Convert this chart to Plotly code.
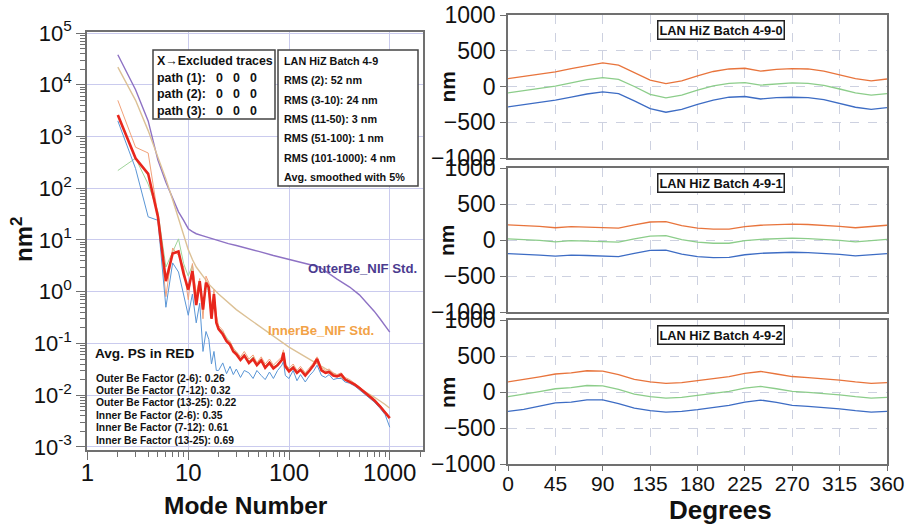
import plotly.graph_objects as go

# ---------------- power spectra (left panel) ----------------
MODES = [2, 3, 4, 5, 6, 7, 8, 9, 10, 11, 12, 13, 14, 15, 16, 17, 18, 19, 20,
         22, 24, 26, 28, 30, 33, 36, 40, 44, 48, 53, 58, 64, 70, 77, 85, 88, 92,
         100, 110, 120, 130, 145, 160, 175, 190, 210, 230, 250, 275, 300, 330,
         360, 400, 450, 500, 560, 630, 700, 800, 900, 1000]

PS_AVG = [2600, 380, 190, 28, 1.6, 5.5, 6.0, 2.2, 1.1, 2.5, 0.55, 1.6, 0.45, 1.5,
          1.2, 0.3, 0.9, 0.25, 0.19, 0.15, 0.11, 0.095, 0.07, 0.062, 0.048, 0.058,
          0.042, 0.05, 0.038, 0.047, 0.034, 0.042, 0.033, 0.038, 0.048, 0.066,
          0.036, 0.029, 0.034, 0.027, 0.031, 0.024, 0.03, 0.038, 0.05, 0.03, 0.027,
          0.028, 0.024, 0.023, 0.025, 0.02, 0.018, 0.016, 0.0138, 0.0115, 0.0096,
          0.008, 0.0061, 0.0046, 0.0036]

PS_PATH1 = [2000, 240, 28, 24, 0.5, 3.6, 2.4, 0.9, 0.35, 0.9, 0.25, 0.6, 0.07,
            0.17, 0.12, 0.04, 0.07, 0.03, 0.03, 0.042, 0.026, 0.036, 0.025, 0.032,
            0.022, 0.03, 0.027, 0.021, 0.03, 0.024, 0.02, 0.028, 0.021, 0.03,
            0.038, 0.045, 0.024, 0.021, 0.03, 0.019, 0.025, 0.018, 0.024, 0.029,
            0.038, 0.024, 0.022, 0.025, 0.02, 0.021, 0.021, 0.018, 0.017, 0.015,
            0.0128, 0.0108, 0.009, 0.0074, 0.0056, 0.0042, 0.0024]

PS_PATH2 = [5000, 620, 480, 30, 0.8, 7, 5, 3.0, 0.7, 3.5, 0.9, 1.8, 0.3, 2.0, 1.5,
            0.5, 1.1, 0.35, 0.22, 0.18, 0.12, 0.11, 0.08, 0.07, 0.055, 0.07, 0.05,
            0.06, 0.042, 0.055, 0.04, 0.05, 0.038, 0.045, 0.055, 0.075, 0.04,
            0.033, 0.04, 0.03, 0.036, 0.027, 0.034, 0.042, 0.055, 0.034, 0.03,
            0.032, 0.027, 0.025, 0.027, 0.022, 0.02, 0.017, 0.0145, 0.012, 0.01,
            0.0085, 0.0064, 0.0048, 0.0038]

PS_PATH3 = [220, 380, 120, 35, 3, 6, 10.5, 3.5, 2.0, 3.3, 0.7, 1.5, 0.5, 1.3, 1.0,
            0.3, 0.8, 0.28, 0.2, 0.17, 0.13, 0.1, 0.08, 0.065, 0.05, 0.062, 0.045,
            0.055, 0.04, 0.05, 0.036, 0.045, 0.035, 0.04, 0.05, 0.068, 0.038,
            0.031, 0.036, 0.028, 0.032, 0.026, 0.031, 0.04, 0.05, 0.031, 0.028,
            0.029, 0.025, 0.023, 0.026, 0.021, 0.019, 0.016, 0.014, 0.0118, 0.0098,
            0.0082, 0.0062, 0.0047, 0.0037]

STD_MODES = [2, 3, 4, 5, 6, 7, 8, 9, 10, 11, 12, 14, 16, 20, 25, 30, 40, 50, 70,
             100, 150, 200, 300, 400, 500, 600, 700, 800, 900, 1000]
OUTER_BE_STD = [38000, 8000, 2000, 350, 130, 65, 35, 24, 16.5, 14.5, 13.2, 12, 11,
                9.5, 8.5, 7.8, 6.8, 6.0, 5.0, 4.2, 3.5, 3.0, 1.75, 1.23, 0.87,
                0.6, 0.42, 0.3, 0.22, 0.165]
INNER_BE_STD = [22000, 5000, 1300, 400, 150, 60, 25, 12, 6.5, 4.2, 3.0, 2.0, 1.4,
                0.9, 0.6, 0.45, 0.3, 0.22, 0.14, 0.085, 0.053, 0.038, 0.024, 0.018,
                0.014, 0.011, 0.0092, 0.0078, 0.0066, 0.0056]

PS_Y_TICKS = [1e-3, 1e-2, 1e-1, 1e0, 1e1, 1e2, 1e3, 1e4, 1e5]
PS_Y_LABELS = ["10<sup>-3</sup>", "10<sup>-2</sup>", "10<sup>-1</sup>",
               "10<sup>0</sup>", "10<sup>1</sup>", "10<sup>2</sup>",
               "10<sup>3</sup>", "10<sup>4</sup>", "10<sup>5</sup>"]
PS_X_TICKS = [1, 10, 100, 1000]
PS_X_LABELS = ["1", "10", "100", "1000"]

EXCLUDED_ROWS = ["path (1):", "path (2):", "path (3):"]
RMS_LINES = ["LAN HiZ Batch 4-9", "RMS (2): 52 nm", "RMS (3-10): 24 nm",
             "RMS (11-50): 3 nm", "RMS (51-100): 1 nm", "RMS (101-1000): 4 nm",
             "Avg. smoothed with 5%"]
FACTOR_LINES = ["Outer Be Factor (2-6): 0.26", "Outer Be Factor (7-12): 0.32",
                "Outer Be Factor (13-25): 0.22", "Inner Be Factor (2-6): 0.35",
                "Inner Be Factor (7-12): 0.61", "Inner Be Factor (13-25): 0.69"]

# ---------------- surface profiles (right panels) ----------------
DEGREES = [0, 15, 30, 45, 60, 75, 90, 105, 120, 135, 150, 165, 180, 195, 210, 225,
           240, 255, 270, 285, 300, 315, 330, 345, 360]
BATCH_NAMES = ["LAN HiZ Batch 4-9-0", "LAN HiZ Batch 4-9-1", "LAN HiZ Batch 4-9-2"]

P0_ORANGE = [110, 140, 175, 205, 250, 295, 330, 300, 200, 90, 40, 80, 150, 210, 245,
             255, 215, 240, 250, 245, 215, 165, 110, 80, 105]
P0_GREEN = [-90, -60, -25, 5, 50, 95, 125, 100, 0, -110, -160, -120, -50, 10, 45,
            55, 20, 40, 50, 45, 15, -35, -90, -120, -100]
P0_BLUE = [-285, -255, -220, -190, -150, -105, -75, -100, -200, -310, -360, -320,
           -250, -190, -150, -140, -175, -155, -150, -155, -185, -235, -290, -320, -295]

P1_ORANGE = [210, 205, 190, 170, 185, 180, 170, 165, 210, 250, 255, 200, 165, 150,
             150, 185, 205, 215, 220, 215, 205, 190, 170, 185, 205]
P1_GREEN = [15, 10, -5, -25, -10, -15, -25, -30, 15, 55, 60, 5, -30, -45, -45, -10,
            10, 20, 25, 20, 10, -5, -25, -10, 10]
P1_BLUE = [-190, -195, -210, -225, -210, -215, -225, -230, -185, -145, -140, -195,
           -230, -245, -240, -205, -185, -175, -170, -175, -185, -200, -220, -205, -190]

P2_ORANGE = [140, 170, 210, 250, 265, 295, 290, 240, 175, 140, 120, 130, 155, 180,
             215, 260, 285, 250, 215, 200, 185, 165, 140, 120, 130]
P2_GREEN = [-65, -35, 5, 45, 60, 90, 85, 35, -30, -65, -85, -75, -50, -25, 10, 55,
            78, 45, 10, -5, -20, -40, -65, -85, -75]
P2_BLUE = [-270, -240, -195, -150, -140, -110, -110, -160, -225, -260, -280, -270,
           -245, -220, -185, -140, -112, -145, -185, -200, -215, -235, -260, -280, -270]

PROFILES = [(P0_ORANGE, P0_GREEN, P0_BLUE),
            (P1_ORANGE, P1_GREEN, P1_BLUE),
            (P2_ORANGE, P2_GREEN, P2_BLUE)]

DEG_TICKS = [0, 45, 90, 135, 180, 225, 270, 315, 360]
NM_TICKS = [-1000, -500, 0, 500, 1000]

# ---------------- styling ----------------
W, H = 907, 525
SANS = "Liberation Sans, Arial, sans-serif"
FRAME = "#707070"
PS_GRID = "#cacbee"
PROF_GRID = "#cdd1e0"


def px(x):
    return x / W


def py(y):
    return 1 - y / H


fig = go.Figure()

# power spectra traces
fig.add_trace(go.Scatter(x=STD_MODES, y=OUTER_BE_STD, mode="lines",
                         line=dict(color="#8e72c4", width=1.4), xaxis="x", yaxis="y"))
fig.add_trace(go.Scatter(x=STD_MODES, y=INNER_BE_STD, mode="lines",
                         line=dict(color="#dcc196", width=1.4), xaxis="x", yaxis="y"))
fig.add_trace(go.Scatter(x=MODES, y=PS_PATH3, mode="lines",
                         line=dict(color="#9fd49a", width=1), xaxis="x", yaxis="y"))
fig.add_trace(go.Scatter(x=MODES, y=PS_PATH2, mode="lines",
                         line=dict(color="#f2a27a", width=1), xaxis="x", yaxis="y"))
fig.add_trace(go.Scatter(x=MODES, y=PS_PATH1, mode="lines",
                         line=dict(color="#5a96d6", width=1), xaxis="x", yaxis="y"))
fig.add_trace(go.Scatter(x=MODES, y=PS_AVG, mode="lines",
                         line=dict(color="#e8261c", width=2.6), xaxis="x", yaxis="y"))

# profile traces
line_colors = ["#e8743c", "#8ccd8a", "#3d6cc4"]
for i, series in enumerate(PROFILES):
    ax = str(i + 2)
    for vals, col in zip(series, line_colors):
        fig.add_trace(go.Scatter(x=DEGREES, y=vals, mode="lines",
                                 line=dict(color=col, width=1.3),
                                 xaxis="x" + ax, yaxis="y" + ax))

minor_vals = [m * 10 ** e for e in range(-3, 5) for m in range(2, 10)]
minor_x = [m * 10 ** e for e in range(0, 4) for m in range(2, 10)]

layout = dict(
    width=W, height=H, showlegend=False, autosize=False,
    margin=dict(l=0, r=0, t=0, b=0, pad=0, autoexpand=False),
    paper_bgcolor="white", plot_bgcolor="white",
    xaxis=dict(domain=[px(87), px(423)], type="log", range=[-0.005, 3.33],
               tickmode="array", tickvals=PS_X_TICKS, ticktext=PS_X_LABELS,
               ticks="outside", ticklen=8, tickwidth=1.2, tickcolor=FRAME,
               minor=dict(tickmode="array", tickvals=minor_x, ticks="outside",
                          ticklen=5, tickcolor=FRAME, showgrid=False),
               showgrid=True, gridcolor=PS_GRID, gridwidth=1,
               showline=True, linecolor=FRAME, linewidth=1.5, mirror=True,
               zeroline=False, anchor="y", automargin=False,
               ticklabeloverflow="allow", ticklabelstandoff=-8,
               tickfont=dict(family=SANS, size=24, color="#111")),
    yaxis=dict(domain=[py(450), py(32)], type="log", range=[-3.06, 5.02],
               tickmode="array", tickvals=PS_Y_TICKS, ticktext=PS_Y_LABELS,
               ticks="outside", ticklen=9, tickwidth=1.2, tickcolor=FRAME,
               minor=dict(tickmode="array", tickvals=minor_vals, ticks="outside",
                          ticklen=5, tickcolor=FRAME, showgrid=False),
               showgrid=True, gridcolor=PS_GRID, gridwidth=1,
               showline=True, linecolor=FRAME, linewidth=1.5, mirror=True,
               zeroline=False, anchor="x", automargin=False,
               ticklabeloverflow="allow",
               tickfont=dict(family=SANS, size=22, color="#111")),
)

panel_tops = [15, 168, 320]
panel_bottoms = [158, 312, 464]
for i in range(3):
    ax = str(i + 2)
    last = i == 2
    layout["xaxis" + ax] = dict(
        domain=[px(508), px(887)], range=[0, 360], anchor="y" + ax,
        tickmode="array", tickvals=DEG_TICKS, showticklabels=last,
        ticks="outside" if last else "", ticklen=5, tickcolor=FRAME,
        showgrid=True, gridcolor=PROF_GRID, griddash="dash", gridwidth=1,
        showline=True, linecolor=FRAME, linewidth=1.5, mirror=True, zeroline=False,
        automargin=False, ticklabeloverflow="allow", ticklabelstandoff=-5,
        tickfont=dict(family=SANS, size=21, color="#111"))
    layout["yaxis" + ax] = dict(
        domain=[py(panel_bottoms[i]), py(panel_tops[i])], range=[-1000, 1000],
        anchor="x" + ax, tickmode="array", tickvals=NM_TICKS,
        ticks="outside", ticklen=6, tickcolor=FRAME,
        showgrid=True, gridcolor=PROF_GRID, griddash="dash", gridwidth=1,
        showline=True, linecolor=FRAME, linewidth=1.5, mirror=True, zeroline=False,
        automargin=False, ticklabeloverflow="allow",
        tickfont=dict(family=SANS, size=23, color="#111"))

fig.update_layout(**layout)

annotations = []
shapes = []


def text(x, y, s, size, color="#111", xanchor="left", bold=True, angle=0):
    annotations.append(dict(
        x=px(x), y=py(y), xref="paper", yref="paper",
        text=f"<b>{s}</b>" if bold else s,
        showarrow=False, xanchor=xanchor, yanchor="middle", textangle=angle,
        borderpad=0, font=dict(family=SANS, size=size, color=color)))


# excluded traces box
shapes.append(dict(type="rect", xref="paper", yref="paper", x0=px(153), x1=px(275),
                   y0=py(119), y1=py(50), line=dict(color="#444", width=1.5),
                   fillcolor="white", layer="above"))
text(156, 61, "X\u2192Excluded traces", 12.4)
for k, row in enumerate(EXCLUDED_ROWS):
    yy = 77.5 + k * 16.7
    text(156, yy, row, 12.4)
    for cx in (219, 236, 253):
        text(cx, yy, "0", 12.4, xanchor="center")

# RMS box
shapes.append(dict(type="rect", xref="paper", yref="paper", x0=px(278), x1=px(418),
                   y0=py(186), y1=py(50), line=dict(color="#444", width=1.5),
                   fillcolor="white", layer="above"))
for k, line in enumerate(RMS_LINES):
    text(283, 61 + k * 19.3, line, 10.8)

text(94, 353, "Avg. PS in RED", 13.6)
for k, line in enumerate(FACTOR_LINES):
    text(95, 378 + k * 12.45, line, 10.3)

text(307, 268, "OuterBe_NIF Std.", 13.2, color="#4b3b8f")
text(267, 330, "InnerBe_NIF Std.", 13.2, color="#f2a247")

# axis titles
text(22, 240, "nm<sup>2</sup>", 24, xanchor="center", angle=-90)
text(246, 505, "Mode Number", 24.5, xanchor="center")
text(720, 510, "Degrees", 26, xanchor="center")
for i in range(3):
    text(447, (panel_tops[i] + panel_bottoms[i]) / 2, "nm", 21,
         xanchor="center", angle=-90)

# panel labels
for i, name in enumerate(BATCH_NAMES):
    annotations.append(dict(
        x=px(721), y=py(panel_tops[i] + 14.5), xref="paper", yref="paper",
        text=f"<b>{name}</b>", showarrow=False, xanchor="center", yanchor="middle",
        bgcolor="white", bordercolor="#222", borderwidth=1.5, borderpad=1,
        font=dict(family=SANS, size=12.8, color="#111")))

fig.update_layout(annotations=annotations, shapes=shapes)
fig.write_html("out.html")
